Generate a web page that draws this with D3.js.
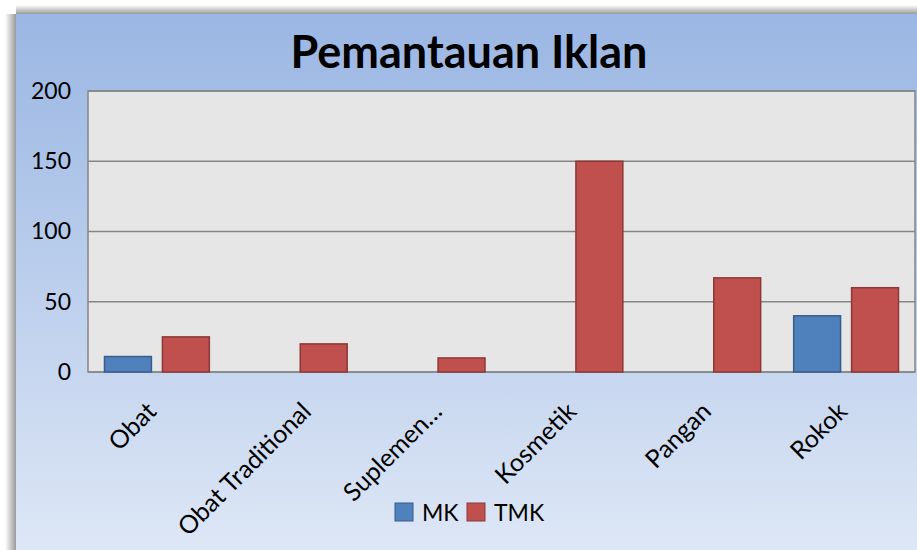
<!DOCTYPE html>
<html>
<head>
<meta charset="utf-8">
<script src="https://cdn.jsdelivr.net/npm/d3@7"></script>
<style>
  body { margin: 0; background: #fff; }
  text { font-family: Lato, "Open Sans", sans-serif; }
</style>
</head>
<body>
<div class="chart"></div>
<script>
// data dari gambar
var categories = ["Obat", "Obat Traditional", "Suplemen…", "Kosmetik", "Pangan", "Rokok"];
var seriesNames = ["MK", "TMK"];
var mkValues = [11, 0, 0, 0, 0, 40];
var tmkValues = [25, 20, 10, 150, 67, 60];
var yTicks = [0, 50, 100, 150, 200];

var colors = { MK: "#4f81bd", TMK: "#c0504d" };
var strokes = { MK: "#385d8a", TMK: "#8c3836" };

var width = 917, height = 550;
var plot = { left: 88, top: 91, right: 915, bottom: 372 };

var svg = d3.select(".chart").append("svg")
  .attr("width", width)
  .attr("height", height);

var defs = svg.append("defs");
var bg = defs.append("linearGradient").attr("id", "bg").attr("x1", 0).attr("y1", 0).attr("x2", 0).attr("y2", 1);
bg.append("stop").attr("offset", "0%").attr("stop-color", "#9ab6e3");
bg.append("stop").attr("offset", "100%").attr("stop-color", "#dfe8f6");

var shTop = defs.append("linearGradient").attr("id", "shTop").attr("x1", 0).attr("y1", 0).attr("x2", 0).attr("y2", 1);
shTop.append("stop").attr("offset", "0%").attr("stop-color", "#ffffff");
shTop.append("stop").attr("offset", "100%").attr("stop-color", "#9a9a9a");
var shLeft = defs.append("linearGradient").attr("id", "shLeft").attr("x1", 0).attr("y1", 0).attr("x2", 1).attr("y2", 0);
shLeft.append("stop").attr("offset", "0%").attr("stop-color", "#ffffff");
shLeft.append("stop").attr("offset", "100%").attr("stop-color", "#9a9a9a");

// bayangan bingkai
svg.append("rect").attr("x", 16).attr("y", 5).attr("width", width).attr("height", 9).attr("fill", "url(#shTop)");
svg.append("rect").attr("x", 5).attr("y", 14).attr("width", 11).attr("height", height).attr("fill", "url(#shLeft)");
svg.append("rect").attr("x", 16).attr("y", 14).attr("width", width).attr("height", height).attr("fill", "url(#bg)");

// judul
svg.append("text")
  .attr("x", 469)
  .attr("y", 68)
  .attr("text-anchor", "middle")
  .style("font-size", "45px")
  .style("font-weight", "bold")
  .style("fill", "#000")
  .text("Pemantauan Iklan");

var x = d3.scaleBand()
  .domain(categories)
  .range([plot.left, plot.right]);

var x1 = d3.scaleBand()
  .domain(seriesNames)
  .range([16.5, x.bandwidth() - 16.5])
  .paddingInner(0.19);

var y = d3.scaleLinear()
  .domain([0, 200])
  .range([plot.bottom, plot.top]);

// area plot
svg.append("rect")
  .attr("x", plot.left).attr("y", plot.top)
  .attr("width", plot.right - plot.left).attr("height", plot.bottom - plot.top)
  .attr("fill", "#e6e6e6");

// garis grid
svg.append("g")
  .selectAll("line")
  .data(yTicks)
  .enter().append("line")
  .attr("x1", plot.left).attr("x2", plot.right)
  .attr("y1", function(d) { return y(d); }).attr("y2", function(d) { return y(d); })
  .attr("stroke", "#868686").attr("stroke-width", 1.5);

svg.append("rect")
  .attr("x", plot.left).attr("y", plot.top)
  .attr("width", plot.right - plot.left).attr("height", plot.bottom - plot.top)
  .attr("fill", "none").attr("stroke", "#868686").attr("stroke-width", 1.5);

// sumbu y
var yAxis = d3.axisLeft(y).tickValues(yTicks).tickSize(0).tickPadding(17);
var gy = svg.append("g")
  .attr("transform", "translate(" + plot.left + ",0)")
  .call(yAxis);
gy.select(".domain").remove();
gy.selectAll("text")
  .style("font-size", "23px")
  .style("font-family", "Lato, sans-serif")
  .attr("fill", "#000");

// batang
var rows = categories.map(function(c, i) { return { key: c, MK: mkValues[i], TMK: tmkValues[i] }; });

var groups = svg.append("g").selectAll("g")
  .data(rows)
  .enter().append("g")
  .attr("transform", function(d) { return "translate(" + x(d.key) + ",0)"; });

groups.selectAll("rect")
  .data(function(d) { return seriesNames.map(function(s) { return { s: s, v: d[s] }; }).filter(function(e) { return e.v > 0; }); })
  .enter().append("rect")
  .attr("x", function(d) { return x1(d.s); })
  .attr("y", function(d) { return y(d.v); })
  .attr("width", x1.bandwidth())
  .attr("height", function(d) { return y(0) - y(d.v); })
  .attr("fill", function(d) { return colors[d.s]; })
  .attr("stroke", function(d) { return strokes[d.s]; })
  .attr("stroke-width", 1.5);

// label kategori (label panjang sedikit bergeser ke kanan, seperti Excel)
var xAxis = d3.axisBottom(x).tickSize(0).tickPadding(0);
var gx = svg.append("g")
  .attr("transform", "translate(0," + plot.bottom + ")")
  .call(xAxis);
gx.select(".domain").remove();
gx.selectAll("text")
  .attr("text-anchor", "end")
  .attr("dy", 0)
  .style("font-size", "25px")
  .style("font-family", "Lato, sans-serif")
  .attr("fill", "#000")
  .attr("transform", function() {
    var len = this.getComputedTextLength();
    var dx = 3 + 0.14 * (len - 70);
    return "translate(" + dx + ",41) rotate(-45)";
  });

// legenda
var legend = svg.append("g").attr("transform", "translate(395,503)");
var legX = [0, 72];
seriesNames.forEach(function(s, i) {
  legend.append("rect")
    .attr("x", legX[i]).attr("y", 0)
    .attr("width", 18).attr("height", 18)
    .attr("fill", colors[s]).attr("stroke", strokes[s]).attr("stroke-width", 1);
  legend.append("text")
    .attr("x", legX[i] + 27).attr("y", 18)
    .style("font-size", "23px")
    .text(s);
});
</script>
</body>
</html>
